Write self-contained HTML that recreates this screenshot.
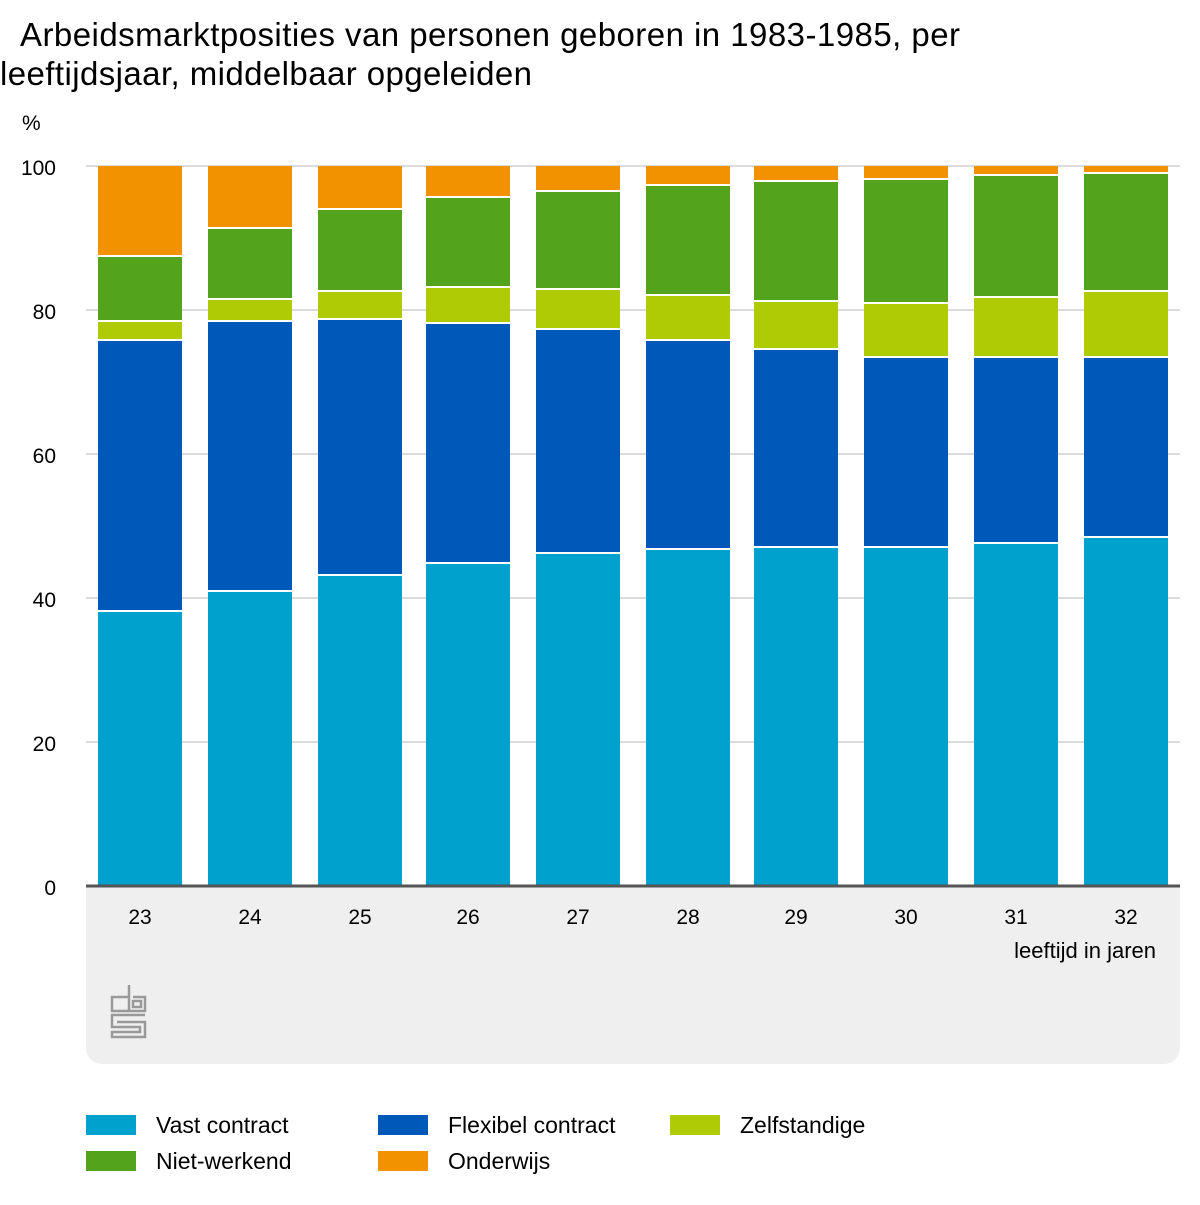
<!DOCTYPE html>
<html><head><meta charset="utf-8"><style>
body{margin:0;width:1200px;height:1200px;background:#fff;font-family:"Liberation Sans",sans-serif;overflow:hidden}
</style></head><body>
<svg width="1200" height="1200" xmlns="http://www.w3.org/2000/svg" font-family="Liberation Sans, sans-serif">
<text x="20" y="46" font-size="33" fill="#000" textLength="940">Arbeidsmarktposities van personen geboren in 1983-1985, per</text>
<text x="0" y="85" font-size="33" fill="#000" textLength="532">leeftijdsjaar, middelbaar opgeleiden</text>
<text x="22" y="130" font-size="21">%</text>
<path d="M86 886H1180V1048a16 16 0 0 1-16 16H102a16 16 0 0 1-16-16Z" fill="#efefef"/>
<g stroke="#cfcfcf" stroke-width="1.5">
<line x1="86" x2="1180" y1="166" y2="166"/><line x1="86" x2="1180" y1="310" y2="310"/>
<line x1="86" x2="1180" y1="454" y2="454"/><line x1="86" x2="1180" y1="598" y2="598"/>
<line x1="86" x2="1180" y1="742" y2="742"/></g>
<g font-size="21" text-anchor="end">
<text x="56" y="175">100</text><text x="56" y="319">80</text><text x="56" y="463">60</text>
<text x="56" y="607">40</text><text x="56" y="751">20</text><text x="56" y="895">0</text></g>
<g>
<rect x="98" y="612" width="84" height="274" fill="#00a1cd"/><rect x="98" y="341" width="84" height="269" fill="#0058b8"/><rect x="98" y="322" width="84" height="17" fill="#afcb05"/><rect x="98" y="257" width="84" height="63" fill="#53a31d"/><rect x="98" y="166" width="84" height="89" fill="#f39200"/>
<rect x="208" y="592" width="84" height="294" fill="#00a1cd"/><rect x="208" y="322" width="84" height="268" fill="#0058b8"/><rect x="208" y="300" width="84" height="20" fill="#afcb05"/><rect x="208" y="229" width="84" height="69" fill="#53a31d"/><rect x="208" y="166" width="84" height="61" fill="#f39200"/>
<rect x="318" y="576" width="84" height="310" fill="#00a1cd"/><rect x="318" y="320" width="84" height="254" fill="#0058b8"/><rect x="318" y="292" width="84" height="26" fill="#afcb05"/><rect x="318" y="210" width="84" height="80" fill="#53a31d"/><rect x="318" y="166" width="84" height="42" fill="#f39200"/>
<rect x="426" y="564" width="84" height="322" fill="#00a1cd"/><rect x="426" y="324" width="84" height="238" fill="#0058b8"/><rect x="426" y="288" width="84" height="34" fill="#afcb05"/><rect x="426" y="198" width="84" height="88" fill="#53a31d"/><rect x="426" y="166" width="84" height="30" fill="#f39200"/>
<rect x="536" y="554" width="84" height="332" fill="#00a1cd"/><rect x="536" y="330" width="84" height="222" fill="#0058b8"/><rect x="536" y="290" width="84" height="38" fill="#afcb05"/><rect x="536" y="192" width="84" height="96" fill="#53a31d"/><rect x="536" y="166" width="84" height="24" fill="#f39200"/>
<rect x="646" y="550" width="84" height="336" fill="#00a1cd"/><rect x="646" y="341" width="84" height="207" fill="#0058b8"/><rect x="646" y="296" width="84" height="43" fill="#afcb05"/><rect x="646" y="186" width="84" height="108" fill="#53a31d"/><rect x="646" y="166" width="84" height="18" fill="#f39200"/>
<rect x="754" y="548" width="84" height="338" fill="#00a1cd"/><rect x="754" y="350" width="84" height="196" fill="#0058b8"/><rect x="754" y="302" width="84" height="46" fill="#afcb05"/><rect x="754" y="182" width="84" height="118" fill="#53a31d"/><rect x="754" y="166" width="84" height="14" fill="#f39200"/>
<rect x="864" y="548" width="84" height="338" fill="#00a1cd"/><rect x="864" y="358" width="84" height="188" fill="#0058b8"/><rect x="864" y="304" width="84" height="52" fill="#afcb05"/><rect x="864" y="180" width="84" height="122" fill="#53a31d"/><rect x="864" y="166" width="84" height="12" fill="#f39200"/>
<rect x="974" y="544" width="84" height="342" fill="#00a1cd"/><rect x="974" y="358" width="84" height="184" fill="#0058b8"/><rect x="974" y="298" width="84" height="58" fill="#afcb05"/><rect x="974" y="176" width="84" height="120" fill="#53a31d"/><rect x="974" y="166" width="84" height="8" fill="#f39200"/>
<rect x="1084" y="538" width="84" height="348" fill="#00a1cd"/><rect x="1084" y="358" width="84" height="178" fill="#0058b8"/><rect x="1084" y="292" width="84" height="64" fill="#afcb05"/><rect x="1084" y="174" width="84" height="116" fill="#53a31d"/><rect x="1084" y="166" width="84" height="6" fill="#f39200"/>
</g>
<line x1="86" x2="1180" y1="886" y2="886" stroke="#555" stroke-width="3"/>
<g font-size="21" text-anchor="middle">
<text x="140" y="924">23</text><text x="250" y="924">24</text><text x="360" y="924">25</text>
<text x="468" y="924">26</text><text x="578" y="924">27</text><text x="688" y="924">28</text>
<text x="796" y="924">29</text><text x="906" y="924">30</text><text x="1016" y="924">31</text>
<text x="1126" y="924">32</text></g>
<text x="1156" y="958" font-size="22" text-anchor="end">leeftijd in jaren</text>
<g fill="none" stroke="#999" stroke-width="2.5">
<path d="M128 997H112V1011H128"/>
<path d="M129 985V1011H145V997H133"/>
<rect x="133" y="1001" width="8" height="6"/>
<path d="M145 1015H112V1027H140V1032H112V1037H145V1022H117"/>
</g>
<g font-size="23">
<rect x="86" y="1115" width="50" height="20" fill="#00a1cd"/><text x="156" y="1133">Vast contract</text>
<rect x="378" y="1115" width="50" height="20" fill="#0058b8"/><text x="448" y="1133">Flexibel contract</text>
<rect x="670" y="1115" width="50" height="20" fill="#afcb05"/><text x="740" y="1133">Zelfstandige</text>
<rect x="86" y="1151" width="50" height="20" fill="#53a31d"/><text x="156" y="1169">Niet-werkend</text>
<rect x="378" y="1151" width="50" height="20" fill="#f39200"/><text x="448" y="1169">Onderwijs</text>
</g>
</svg>
</body></html>
